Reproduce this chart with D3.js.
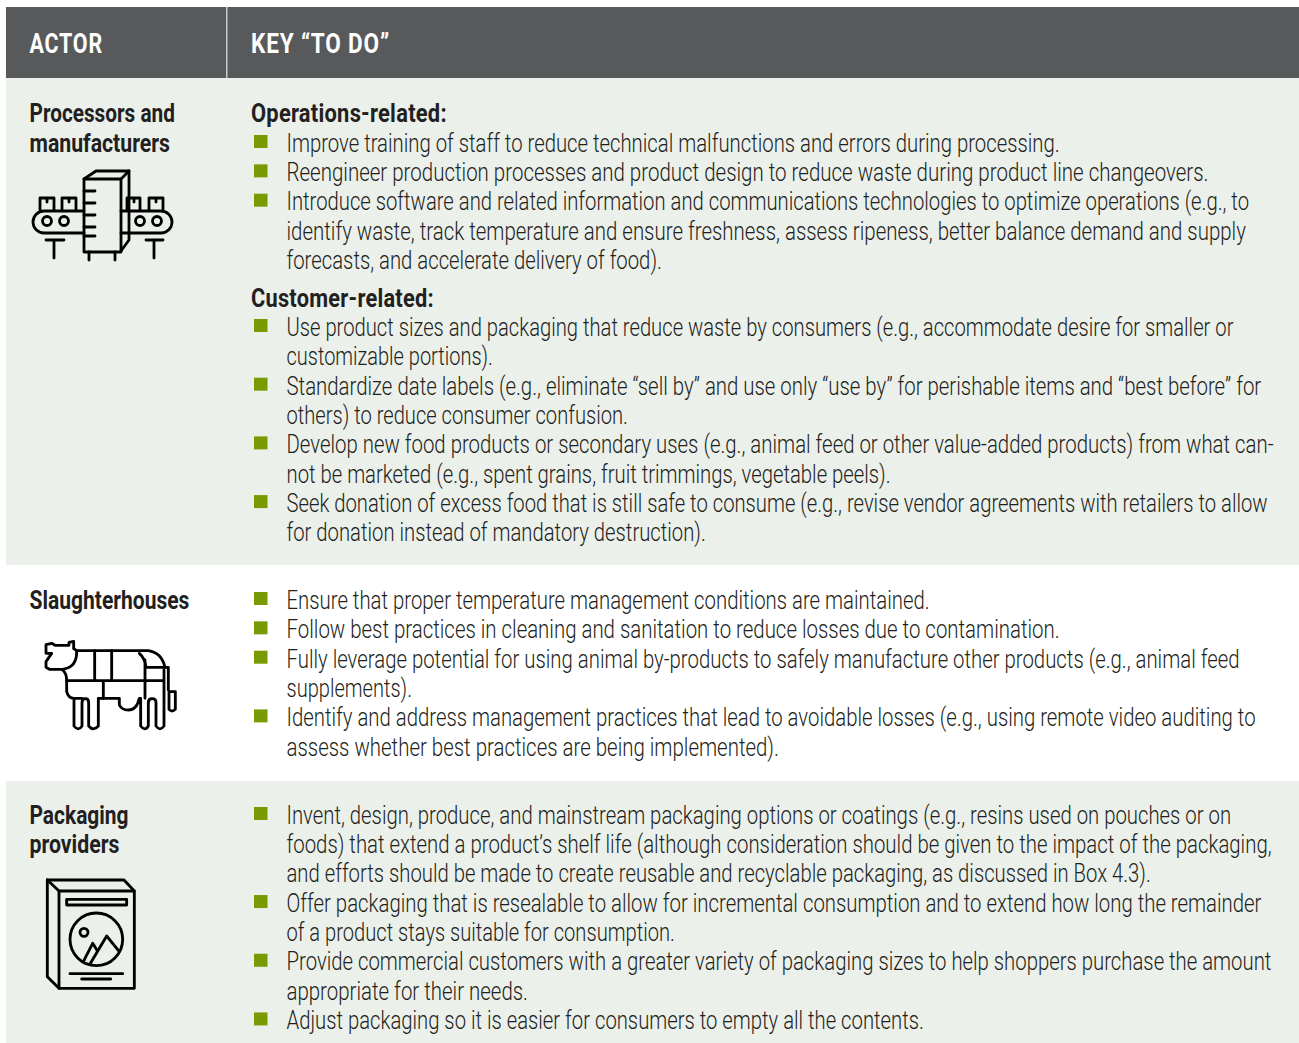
<!DOCTYPE html>
<html><head><meta charset="utf-8">
<script src="https://cdn.jsdelivr.net/npm/d3@7"></script>
<style>html,body{margin:0;padding:0;background:#fff}svg{display:block}</style></head>
<body><div id="c"></div>
<script>
const headers = ["ACTOR", "KEY “TO DO”"];
const actors = [["Processors and","manufacturers"],["Slaughterhouses"],["Packaging","providers"]];
const subheads = ["Operations-related:", "Customer-related:"];
const operationsItems = [
 ["Improve training of staff to reduce technical malfunctions and errors during processing."],
 ["Reengineer production processes and product design to reduce waste during product line changeovers."],
 ["Introduce software and related information and communications technologies to optimize operations (e.g., to","identify waste, track temperature and ensure freshness, assess ripeness, better balance demand and supply","forecasts, and accelerate delivery of food)."]
];
const customerItems = [
 ["Use product sizes and packaging that reduce waste by consumers (e.g., accommodate desire for smaller or","customizable portions)."],
 ["Standardize date labels (e.g., eliminate “sell by” and use only “use by” for perishable items and “best before” for","others) to reduce consumer confusion."],
 ["Develop new food products or secondary uses (e.g., animal feed or other value-added products) from what can-","not be marketed (e.g., spent grains, fruit trimmings, vegetable peels)."],
 ["Seek donation of excess food that is still safe to consume (e.g., revise vendor agreements with retailers to allow","for donation instead of mandatory destruction)."]
];
const slaughterItems = [
 ["Ensure that proper temperature management conditions are maintained."],
 ["Follow best practices in cleaning and sanitation to reduce losses due to contamination."],
 ["Fully leverage potential for using animal by-products to safely manufacture other products (e.g., animal feed","supplements)."],
 ["Identify and address management practices that lead to avoidable losses (e.g., using remote video auditing to","assess whether best practices are being implemented)."]
];
const packagingItems = [
 ["Invent, design, produce, and mainstream packaging options or coatings (e.g., resins used on pouches or on","foods) that extend a product’s shelf life (although consideration should be given to the impact of the packaging,","and efforts should be made to create reusable and recyclable packaging, as discussed in Box 4.3)."],
 ["Offer packaging that is resealable to allow for incremental consumption and to extend how long the remainder","of a product stays suitable for consumption."],
 ["Provide commercial customers with a greater variety of packaging sizes to help shoppers purchase the amount","appropriate for their needs."],
 ["Adjust packaging so it is easier for consumers to empty all the contents."]
];
// right edge of each printed line, in page pixels (layout only)
const operationsEnds=[1060,1209,1249,1246,662];
const customerEnds=[1234,493,1262,628,1274,891,1268,706];
const slaughterEnds=[930,1060,1240,412,1256,779];
const packagingEnds=[1232,1272,1151,1262,675,1272,528,924];

const W=1299,H=1043, LH=29.35;
const ink="#231f20", green="#7a9a01";
const svg=d3.select("#c").append("svg").attr("width",W).attr("height",H).attr("viewBox",`0 0 ${W} ${H}`);
svg.append("rect").attr("width",W).attr("height",H).attr("fill","#fff");
svg.append("rect").attr("x",6).attr("y",7).attr("width",W-6).attr("height",71).attr("fill","#58595b");
svg.append("rect").attr("x",226).attr("y",7).attr("width",1.5).attr("height",71).attr("fill","#c9cacb");
svg.append("rect").attr("x",6).attr("y",78).attr("width",W-6).attr("height",487).attr("fill","#ebf0eb");
svg.append("rect").attr("x",6).attr("y",781).attr("width",W-6).attr("height",262).attr("fill","#ebf0eb");

function txt(s,x,y,size,weight,fill,end,ls){
  const t=svg.append("text").attr("font-family","Roboto").attr("font-size",size)
    .attr("font-weight",weight).attr("fill",fill).text(s);
  if(ls) t.attr("letter-spacing",ls);
  const sx=(end-x)/t.node().getComputedTextLength();
  t.attr("transform",`translate(${x},${y}) scale(${sx},1)`);
  return t;
}
txt(headers[0],29.5,53,27,700,"#fff",103,1);
txt(headers[1],251,53,27,700,"#fff",390,1);
const actorEnds=[[175,170],[189.5],[128.5,119.5]], actorY=[122,609,824], actorLH=[30,29,29];
actors.forEach((lines,a)=>lines.forEach((l,i)=>txt(l,29.5,actorY[a]+i*actorLH[a],25,700,ink,actorEnds[a][i])));
txt(subheads[0],251,122,25,700,ink,447,0.3);
txt(subheads[1],251,307,25,700,ink,434,0.3);
function block(items,ends,y0,by0){
  let n=0;
  items.forEach(it=>{
    it.forEach((l,i)=>{
      const y=y0+n*LH;
      if(i===0) svg.append("rect").attr("x",254).attr("y",by0+n*LH).attr("width",13.5).attr("height",13).attr("fill",green);
      txt(l,286.5,y,25,300,ink,ends[n]);
      n++;
    });
  });
}
block(operationsItems,operationsEnds,151.7,135);
block(customerItems,customerEnds,336,319);
block(slaughterItems,slaughterEnds,609,592);
block(packagingItems,packagingEnds,823.6,807);

function icon(ox,oy,k,sw,paths,circles){
  const g=svg.append("g").attr("transform",`translate(${ox},${oy}) scale(${k})`)
    .attr("fill","none").attr("stroke","#000").attr("stroke-width",sw).attr("stroke-linejoin","round").attr("stroke-linecap","round");
  g.selectAll("path").data(paths).join("path").attr("d",d=>d);
  g.selectAll("circle").data(circles).join("circle").attr("cx",d=>d[0]).attr("cy",d=>d[1]).attr("r",d=>d[2]);
}
// factory
icon(0,0,1,2.8,[
 "M84 179H121V252H84Z","M84 179L96 171H129L121 179","M129 171V240L121 251",
 "M84 191H95M84 203H95M84 215H95M84 227H95M84 236H95","M89 252V260M115 252V260",
 "M84 211H44A11 11 0 0 0 44 233H84","M121 211H161A11 11 0 0 1 161 233H121",
 "M46 240H64M54 240V258","M146 240H163M154 240V258",
 "M40 210V198H54V210M47 198V202","M62 210V198H76V210M69 198V202","M127 210V198H140V210M134 198V202","M149 210V198H163V210M156 198V202"
],[[47,221,4.5],[64,221,4.5],[140,221,4.5],[157,221,4.5]]);
// cow
icon(20,590,1/3,8.5,[
 "M170 182H385Q425 188 435 232H445V300M447 305H466V358Q456 368 447 358Z",
 "M170 182L161 176V154L147 157V166H105L95 160L78 164V190H95L78 215V232L88 238H128Q172 232 170 182",
 "M128 240Q140 250 140 272V305Q145 325 162 325V408Q175 425 186 408V338Q186 326 196 326Q206 326 206 338V408Q220 425 235 408V325H298V345Q305 360 325 360Q350 360 358 325H362V408Q375 425 385 408V338Q385 326 396 326Q408 326 408 338V408Q420 425 432 408V240",
 "M162 325H186M224 182V270M275 182V270M140 272H430M250 272V325M375 210V325M378 232H435M358 190Q375 205 378 232"
],[]);
// package
icon(20,790,1/3,8.5,[
 "M117 303H343V595H117Z","M82 270H312L343 303","M82 270L117 303","M82 270V560L117 595",
 "M140 328H320V345H140Z","M150 551H308","M185 567H272",
 "M190 515L218 460L232 482","M210 522L260 438L298 485"
],[[229,448,79],[192,427,12]]);
</script></body></html>
